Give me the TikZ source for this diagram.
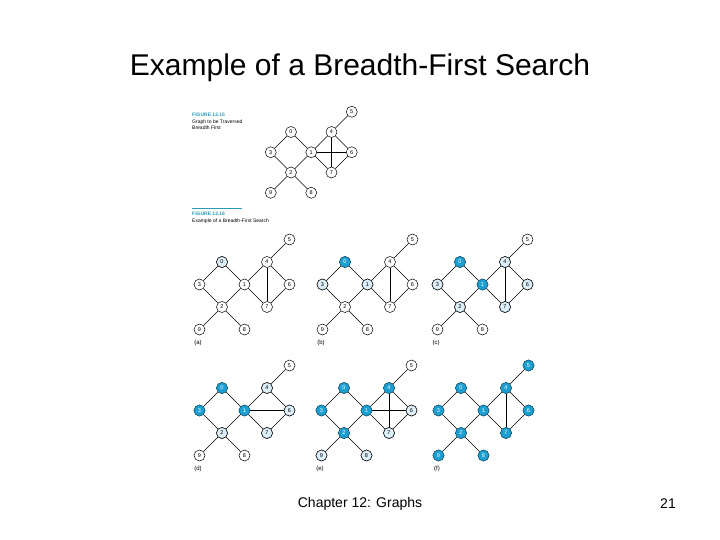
\documentclass[tikz,border=0pt]{standalone}
\usepackage{fontspec}
\setmainfont{Liberation Sans}
\definecolor{bfsblue}{HTML}{1E9FD2}
\definecolor{bfslight}{HTML}{DCEEF7}
\definecolor{capteal}{HTML}{2A9BB8}
\tikzset{
  vtx/.style={circle,draw=black,fill=white,line width=0.5pt,inner sep=0pt,minimum size=11pt,font=\fontsize{5.5}{6}\selectfont},
  vlight/.style={vtx,fill=bfslight},
  vblue/.style={vtx,fill=bfsblue,draw=bfsblue!60!black,text=white},
  edge/.style={line width=0.6pt}
}
% #1 prefix, #2 origin, #3 scale, #4 light nodes, #5 blue nodes, #6 extra edges
\newcommand\bfsgraph[6]{
  \begin{scope}[shift={#2},scale=#3]
    \foreach \n/\px/\py in {0/0/0, 3/-1/1, 1/1/1, 2/0/2, 9/-1/3, 8/1/3, 4/2/0, 5/3/-1, 6/3/1, 7/2/2}
      {\node[vtx] (#1\n) at (\px*22.5,\py*22.5) {\n};}
    \foreach \n in {#4} {\node[vlight] (#1\n) at (#1\n) {\n};}
    \foreach \n in {#5} {\node[vblue] (#1\n) at (#1\n) {\n};}
  \end{scope}
  \foreach \a/\b in {0/3, 0/1, 3/2, 1/2, 2/9, 2/8, 1/4, 1/7, 4/6, 6/7, 4/5, #6}
    {\draw[edge] (#1\a) -- (#1\b);}
}
\begin{document}
\begin{tikzpicture}[x=1pt,y=-1pt]
  \useasboundingbox (0,0) rectangle (720,540);

  \node (title) at (360,68) {\fontsize{30}{34}\selectfont Example of a Breadth-First Search};

  \node[anchor=north west,align=left,inner sep=0pt,font=\fontsize{5}{6.5}\selectfont] (cap15) at (192,113)
    {\textcolor{capteal}{\textbf{FIGURE 12.15}}\\Graph to be Traversed\\Breadth First};
  \draw[capteal,line width=0.8pt] (192,208) -- (242,208);
  \node[anchor=north west,align=left,inner sep=0pt,font=\fontsize{5}{6.5}\selectfont] (cap16) at (192,212)
    {\textcolor{capteal}{\textbf{FIGURE 12.16}}\\Example of a Breadth-First Search};

  % traversed graph
  \bfsgraph{t}{(291,132)}{0.9}{}{}{4/7, 1/6}

  % panels
  \bfsgraph{a}{(222,262)}{1}{0}{}{4/7}
  \bfsgraph{b}{(345,262)}{1}{3,1}{0}{4/7}
  \bfsgraph{c}{(460,262)}{1}{3,4,6,7,2}{0,1}{4/7}
  \bfsgraph{d}{(222,388)}{1}{2,4,6,7}{0,3,1}{1/6}
  \bfsgraph{e}{(344,388)}{1}{7,6,9,8}{0,3,1,2,4}{4/7, 1/6}
  \bfsgraph{f}{(461,388)}{1}{}{0,1,2,3,4,5,6,7,8,9}{4/7}

  \foreach \p/\l/\x/\y in {la/(a)/198/343, lb/(b)/321/343, lc/(c)/436/343, ld/(d)/198/469, le/(e)/320/469, lf/(f)/437/469}
    {\node[font=\fontsize{6}{7}\selectfont] (\p) at (\x,\y) {\l};}

  \node (footer) at (360,504) {\fontsize{14}{16}\selectfont Chapter 12: Graphs};
  \node (page) at (668,504) {\fontsize{14}{16}\selectfont 21};
\end{tikzpicture}
\end{document}
